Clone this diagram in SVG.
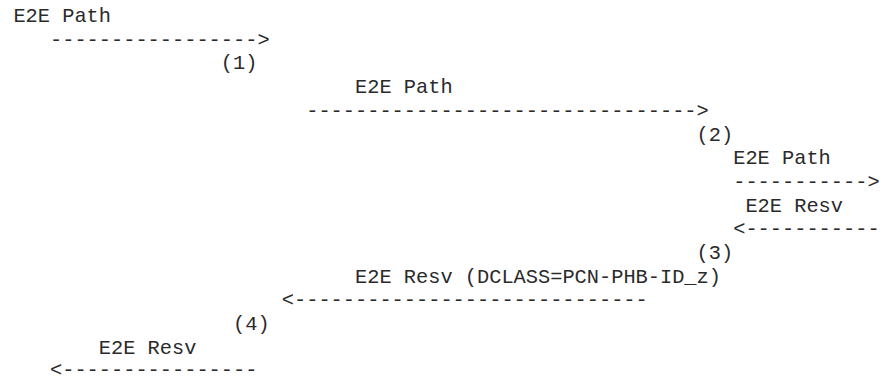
<svg xmlns="http://www.w3.org/2000/svg" width="888" height="379" viewBox="0 0 888 379">
<style>
text { font-family: "Liberation Mono", "Courier New", monospace; font-size: 20.33px; fill: #2a2a2a; }
</style>
<rect width="888" height="379" fill="#fff"/>
<g id="msg1">
<text x="13.4" y="22">E2E Path</text>
<text x="220.8" y="69.4">(1)</text>
</g>
<g id="msg2">
<text x="355" y="93.1">E2E Path</text>
<text x="696.6" y="140.5">(2)</text>
</g>
<g id="msg3">
<text x="733.2" y="164.2">E2E Path</text>
</g>
<g id="msg4">
<text x="745.4" y="211.6">E2E Resv</text>
<text x="696.6" y="259">(3)</text>
</g>
<g id="msg5">
<text x="355" y="282.7">E2E Resv (DCLASS=PCN-PHB-ID_z)</text>
<text x="233" y="330.1">(4)</text>
</g>
<g id="msg6">
<text x="98.8" y="353.8">E2E Resv</text>
</g>
<g id="connectors">
<text x="50" y="45.7">-----------------&gt;</text>
<text x="306.2" y="116.8">--------------------------------&gt;</text>
<text x="733.2" y="187.9">-----------&gt;</text>
<text x="733.2" y="235.3">&lt;-----------</text>
<text x="281.8" y="306.4">&lt;-----------------------------</text>
<text x="50" y="376">&lt;----------------</text>
</g>
</svg>
